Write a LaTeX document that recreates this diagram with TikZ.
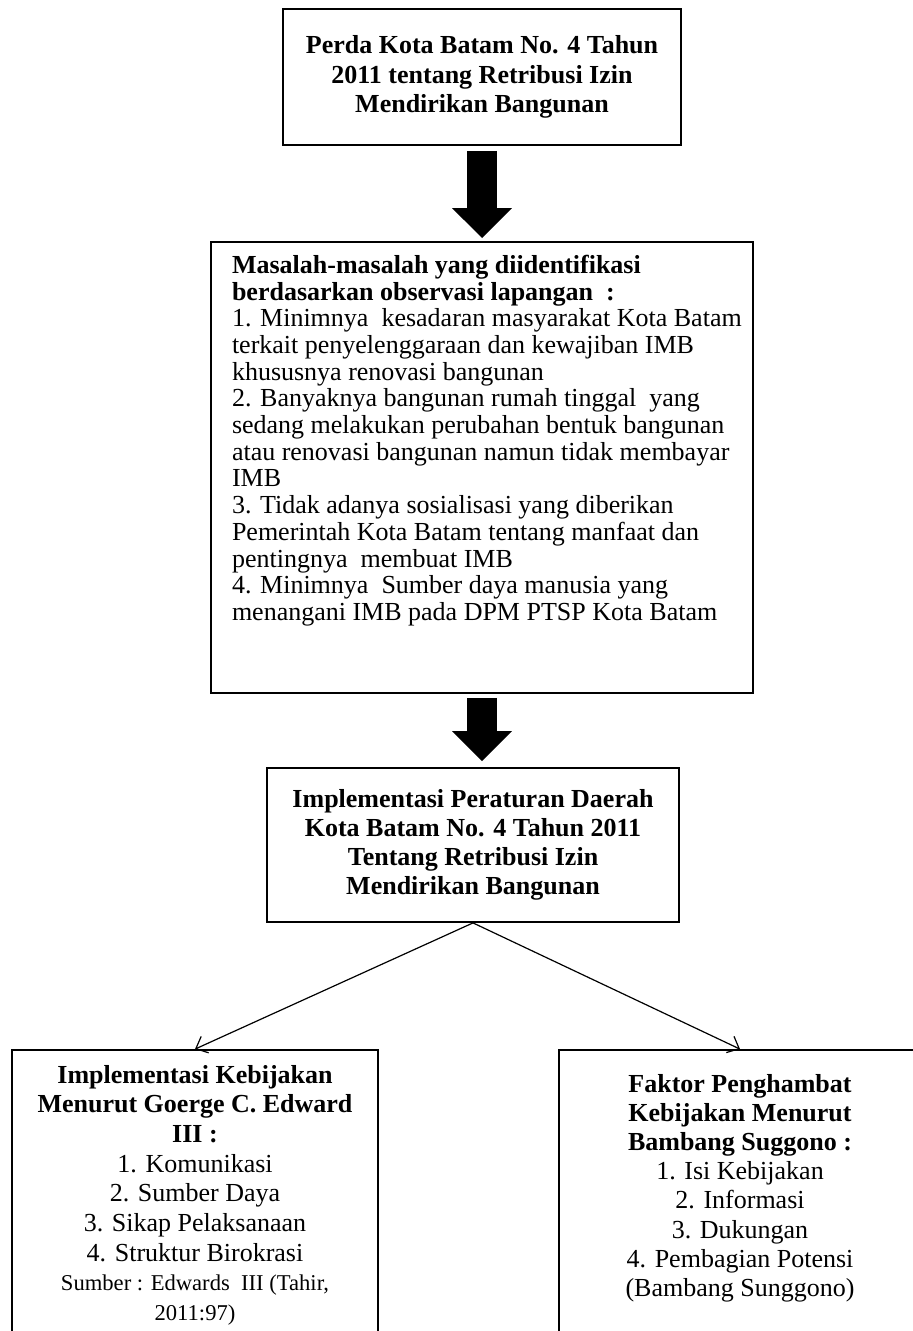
\documentclass[tikz,border=0pt]{standalone}
\usepackage{fontspec}
\setmainfont{Liberation Serif}
\usetikzlibrary{arrows.meta}

\begin{document}
\begin{tikzpicture}[x=0.5pt,y=-0.5pt,>={Straight Barb[length=5pt,width=9pt]},line join=miter]
  \tikzstyle{box}=[draw,line width=0.9pt,inner sep=0pt,align=center,font=\fontsize{13}{14.6}\selectfont\bfseries]
  \tikzstyle{listbox}=[draw,line width=0.9pt,inner sep=0pt]
  \tikzstyle{bigarrow}=[line width=15pt,-{Triangle[length=15pt,width=29pt]}]
  \tikzstyle{thinarrow}=[->,line width=0.6pt]

  \useasboundingbox (0,0) rectangle (912,1331);

  \node[box,minimum width=199pt,minimum height=68pt] (perda) at (482,77)
    {Perda Kota Batam No. 4 Tahun\\ 2011 tentang Retribusi Izin\\ Mendirikan Bangunan};

  \node[listbox] (masalah) at (482,467.5) {\parbox[c][225.5pt][t]{271pt}{%
    \fontsize{13}{13.35}\selectfont\raggedright\leftskip=10.5pt\vspace*{6.5pt}%
    \textbf{Masalah-masalah yang diidentifikasi}\\
    \textbf{berdasarkan observasi lapangan~ :}\\
    1. Minimnya~ kesadaran masyarakat Kota Batam\\
    terkait penyelenggaraan dan kewajiban IMB\\
    khususnya renovasi bangunan\\
    2. Banyaknya bangunan rumah tinggal~ yang\\
    sedang melakukan perubahan bentuk bangunan\\
    atau renovasi bangunan namun tidak membayar\\
    IMB\\
    3. Tidak adanya sosialisasi yang diberikan\\
    Pemerintah Kota Batam tentang manfaat dan\\
    pentingnya~ membuat IMB\\
    4. Minimnya~ Sumber daya manusia yang\\
    menangani IMB pada DPM PTSP Kota Batam}};

  \node[box,minimum width=206pt,minimum height=77pt] (impl) at (473,845)
    {Implementasi Peraturan Daerah\\ Kota Batam No. 4 Tahun 2011\\ Tentang Retribusi Izin\\ Mendirikan Bangunan};

  % two views of the policy
  \node[listbox] (edward) at (195,1197.5) {\parbox[c][147.5pt][t]{183pt}{%
    \fontsize{13}{14.85}\selectfont\centering\vspace*{7.5pt}%
    \textbf{Implementasi Kebijakan}\\
    \textbf{Menurut Goerge C. Edward}\\
    \textbf{III :}\\
    1. Komunikasi\\
    2. Sumber Daya\\
    3. Sikap Pelaksanaan\\
    4. Struktur Birokrasi\\
    {\fontsize{11.3}{14.85}\selectfont Sumber : Edwards~ III (Tahir,}\\
    {\fontsize{11.3}{14.85}\selectfont 2011:97)}}};

  \node[listbox] (faktor) at (740,1197.5) {\parbox[c][147.5pt][t]{181pt}{%
    \fontsize{13}{14.6}\selectfont\centering\vspace*{12pt}%
    \textbf{Faktor Penghambat}\\
    \textbf{Kebijakan Menurut}\\
    \textbf{Bambang Suggono :}\\
    1. Isi Kebijakan\\
    2. Informasi\\
    3. Dukungan\\
    4. Pembagian Potensi\\
    (Bambang Sunggono)}};

  \draw[bigarrow,shorten <=2.5pt,shorten >=1.5pt] (perda.south) -- (perda.south |- masalah.north);
  \draw[bigarrow,shorten <=2pt,shorten >=3pt] (masalah.south) -- (masalah.south |- impl.north);
  \draw[thinarrow] (impl.south) -- (edward.north);
  \draw[thinarrow] (impl.south) -- (faktor.north);
\end{tikzpicture}
\end{document}
